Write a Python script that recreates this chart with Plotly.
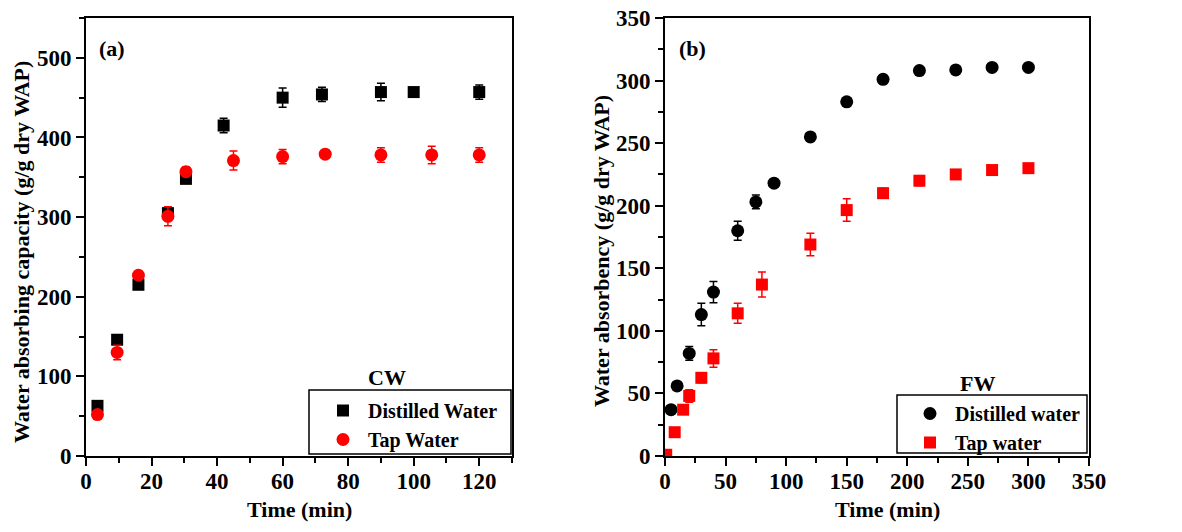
import plotly.graph_objects as go

# ---------------- data ----------------
# Panel (a) CW
cw_time_dw = [3.5, 9.5, 16, 25, 30.5, 42, 60, 72, 90, 100, 120]
cw_dw = [63, 146, 215, 305, 348, 415, 450, 454, 457, 457, 457]
cw_dw_err = [5, 4, 4, 6, 4, 9, 12, 9, 11, 3, 9]
cw_time_tw = [3.5, 9.5, 16, 25, 30.5, 45, 60, 73, 90, 105.5, 120]
cw_tw = [52, 130, 227, 301, 357, 371, 376, 379, 378, 378, 378]
cw_tw_err = [3, 9, 5, 12, 6, 12, 9, 5, 9, 11, 9]

# Panel (b) FW
fw_time_dw = [5, 10, 20, 30, 40, 60, 75, 90, 120, 150, 180, 210, 240, 270, 300]
fw_dw = [37, 56, 82, 113, 131, 180, 203, 218, 255, 283, 301, 308, 308.5, 310.5, 310.5]
fw_dw_err = [2, 2, 5.5, 9, 8.5, 7.5, 5.5, 2, 2, 2, 3.5, 2, 2, 2, 2]
fw_time_tw = [1, 8, 15, 20, 30, 40, 60, 80, 120, 150, 180, 210, 240, 270, 300]
fw_tw = [1, 19, 37, 48, 62.5, 78, 114, 137, 169, 196.5, 210, 220, 225, 228.5, 230]
fw_tw_err = [1, 2, 2, 5, 4, 7, 8, 10, 9, 9, 4, 4, 2, 2, 2]

names_a = ["Distilled Water", "Tap Water"]
names_b = ["Distilled water", "Tap water"]

FONT = "Liberation Serif"
W, H = 1182, 532

def px_x(p):
    return p / W

def px_y(p):
    return 1 - p / H

fig = go.Figure()

def err(arr, color):
    return dict(type="data", array=arr, visible=True, color=color, thickness=1.5, width=4)

fig.add_trace(go.Scatter(x=cw_time_dw, y=cw_dw, mode="markers", name=names_a[0],
                         marker=dict(symbol="square", size=12, color="black"),
                         error_y=err(cw_dw_err, "black"), xaxis="x", yaxis="y", legend="legend"))
fig.add_trace(go.Scatter(x=cw_time_tw, y=cw_tw, mode="markers", name=names_a[1],
                         marker=dict(symbol="circle", size=13, color="#FF0000"),
                         error_y=err(cw_tw_err, "#FF0000"), xaxis="x", yaxis="y", legend="legend"))
fig.add_trace(go.Scatter(x=fw_time_dw, y=fw_dw, mode="markers", name=names_b[0],
                         marker=dict(symbol="circle", size=13, color="black"),
                         error_y=err(fw_dw_err, "black"), xaxis="x2", yaxis="y2", legend="legend2"))
fig.add_trace(go.Scatter(x=fw_time_tw, y=fw_tw, mode="markers", name=names_b[1],
                         marker=dict(symbol="square", size=12, color="#FF0000"),
                         error_y=err(fw_tw_err, "#FF0000"), xaxis="x2", yaxis="y2", legend="legend2"))

tickfont = dict(family=FONT, size=23, color="black", weight=700)

def axis(domain, rng, dtick, minor_dtick, anchor, standoff):
    return dict(domain=domain, range=rng, dtick=dtick, tick0=0, anchor=anchor,
                showgrid=False, zeroline=False, showline=True, linecolor="black", linewidth=2,
                mirror=True, ticks="outside", ticklen=8, tickwidth=2, tickcolor="black",
                minor=dict(dtick=minor_dtick, tick0=0, ticks="outside", ticklen=5, tickwidth=2,
                           tickcolor="black", showgrid=False),
                tickprefix="<b>", ticksuffix="</b>", ticklabelstandoff=standoff,
                tickfont=tickfont, automargin=False, fixedrange=True)

yd = [px_y(456), px_y(18)]
legfont = dict(family=FONT, size=20, color="black", weight=700)
fig.update_layout(
    width=W, height=H,
    margin=dict(l=0, r=0, t=0, b=0),
    paper_bgcolor="white", plot_bgcolor="white",
    xaxis=axis([px_x(86), px_x(512)], [0, 130], 20, 10, "y", -5),
    yaxis=axis(yd, [0, 550], 100, 50, "x", 0),
    xaxis2=axis([px_x(665), px_x(1089)], [0, 350], 50, 25, "y2", -5),
    yaxis2=axis(yd, [0, 350], 50, 25, "x2", 0),
    legend=dict(x=px_x(318), y=px_y(391), xanchor="left", yanchor="top",
                borderwidth=0, bgcolor="rgba(0,0,0,0)",
                font=legfont, itemwidth=40, tracegroupgap=0),
    legend2=dict(x=px_x(905), y=px_y(394), xanchor="left", yanchor="top",
                 borderwidth=0, bgcolor="rgba(0,0,0,0)",
                 font=legfont, itemwidth=40, tracegroupgap=0),
    showlegend=True,
)

# legend frames
for (x0, y0, x1, y1) in [(309, 390, 511, 454), (897, 395, 1087, 453)]:
    fig.add_shape(type="rect", xref="paper", yref="paper",
                  x0=px_x(x0), x1=px_x(x1), y0=px_y(y1), y1=px_y(y0),
                  line=dict(color="black", width=1.5), fillcolor="white", layer="above")

ann_font = dict(family=FONT, size=22, color="black", weight="bold")
annotations = [
    dict(text="Water absorbing capacity (g/g dry WAP)", x=px_x(22), y=px_y(252), textangle=-90),
    dict(text="Time (min)", x=px_x(299), y=px_y(509)),
    dict(text="Water absorbency (g/g dry WAP)", x=px_x(602), y=px_y(251), textangle=-90),
    dict(text="Time (min)", x=px_x(887), y=px_y(509)),
    dict(text="(a)", x=px_x(112), y=px_y(48)),
    dict(text="(b)", x=px_x(692), y=px_y(48)),
    dict(text="CW", x=px_x(387), y=px_y(377)),
    dict(text="FW", x=px_x(977), y=px_y(383)),
]
for a in annotations:
    fig.add_annotation(xref="paper", yref="paper", showarrow=False, font=ann_font,
                       xanchor="center", yanchor="middle", **a)

fig.write_html("out.html", config={"displayModeBar": False},
               post_script="document.body.style.margin='0';document.body.style.overflow='hidden';")
